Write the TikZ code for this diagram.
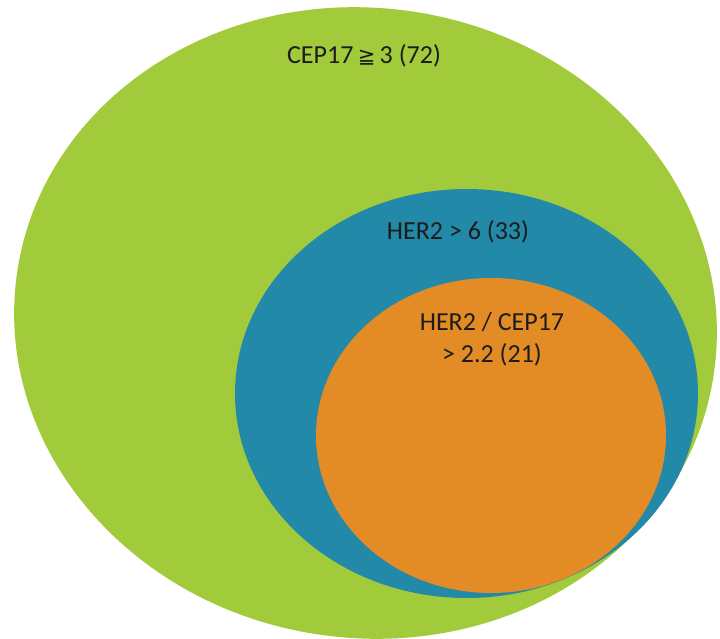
\documentclass[tikz,border=0pt]{standalone}
\usepackage{fontspec}
\setmainfont{Carlito}
\newfontfamily\symfont{DejaVu Sans}
\usepackage{tikz}
\usetikzlibrary{positioning}

\definecolor{cepgreen}{HTML}{A2CB3C}
\definecolor{herblue}{HTML}{2389A8}
\definecolor{ratioorange}{HTML}{E38C25}
\definecolor{labeltext}{HTML}{1C1C1C}

\begin{document}
\begin{tikzpicture}[x=1bp, y=-1bp, every node/.style={font=\fontsize{26bp}{32bp}\selectfont, text=labeltext, inner sep=0pt}]
    % nested sets, pixel coordinates (y down)
    \fill[white] (0,0) rectangle (720,639);
    \useasboundingbox (0,0) rectangle (720,639);

    \fill[cepgreen, rotate around={-8:(365.5,323)}] (365.5,323) ellipse [x radius=352, y radius=315];
    \fill[herblue] (466.5,393.5) ellipse [x radius=231.5, y radius=204.5];
    \fill[ratioorange] (491,435.5) ellipse [x radius=175, y radius=157.5];

    \node (cep) at (364,56) {CEP17\,{\symfont\fontsize{21bp}{21bp}\selectfont ≧}\,3 (72)};
    \node (her) at (458,232) {HER2 > 6 (33)};
    \node[align=center] (ratio) at (492,339) {HER2 / CEP17\\> 2.2 (21)};
\end{tikzpicture}
\end{document}
